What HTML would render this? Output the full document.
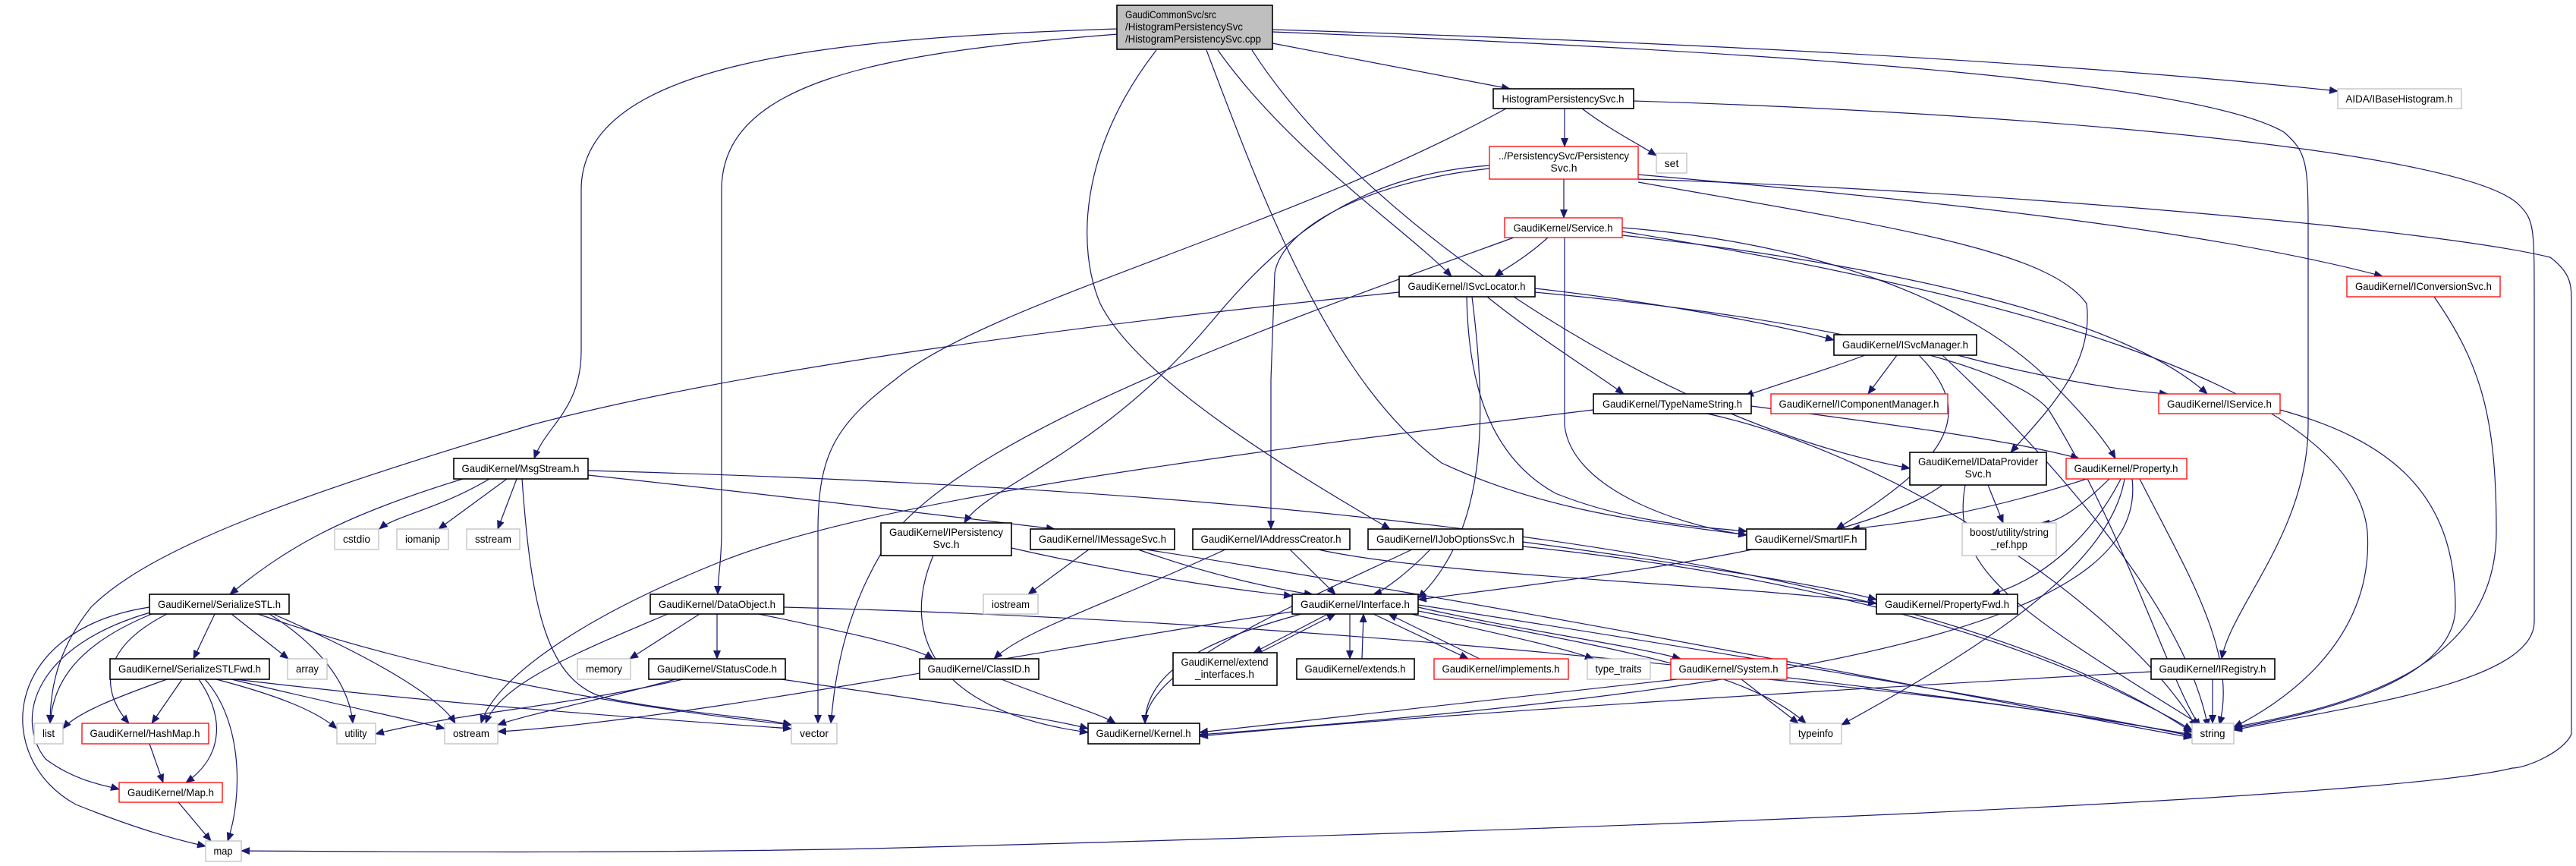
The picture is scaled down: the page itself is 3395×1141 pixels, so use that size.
<!DOCTYPE html>
<html><head><meta charset="utf-8"><style>
html,body{margin:0;padding:0;background:#fff;}
svg{display:block;}
text{font-family:"Liberation Sans",sans-serif;font-size:14px;fill:#000;}
.e{fill:none;stroke:#191970;stroke-width:1.2;marker-end:url(#a);}
.b{fill:#fff;stroke:#000;stroke-width:1.6;}
.r{fill:#fff;stroke:#ff0000;stroke-width:1.3;}
.g{fill:#fff;stroke:#bfbfbf;stroke-width:1.3;}
</style></head><body>
<svg width="3395" height="1141" viewBox="0 0 3395 1141" xmlns="http://www.w3.org/2000/svg">
<defs><marker id="a" markerWidth="12" markerHeight="10" refX="11" refY="5" orient="auto" markerUnits="userSpaceOnUse"><path d="M0,0 L12,5 L0,10 z" fill="#191970"/></marker></defs>
<g>
<!-- root edges -->
<path class="e" d="M1677,57 C1800,80 1900,100 1990,117"/>
<path class="e" d="M1677,39 C2200,55 2700,80 3081,120"/>
<path class="e" d="M1605,66 C1700,200 1850,300 1913,364"/>
<path class="e" d="M1473,38 C1100,50 766,80 766,250 L766,462 C766,540 720,560 704,604"/>
<path class="e" d="M1473,45 C1150,70 951,110 951,250 L951,700 C951,740 946,760 946,783"/>
<path class="e" d="M1524,66 C1420,200 1420,330 1450,400 C1500,500 1700,620 1832,697"/>
<path class="e" d="M1590,66 C1660,250 1750,500 1900,610 C2050,680 2200,690 2302,705"/>
<path class="e" d="M1677,42 C2400,70 2900,110 3010,174 C3040,200 3042,215 3042,300 L3042,560 C3042,700 2940,800 2928,868"/>
<path class="e" d="M1650,66 C1800,300 2200,560 2517,617"/>
<!-- HPS -->
<path class="e" d="M2062,143 L2062,193"/>
<path class="e" d="M2085,143 C2120,170 2160,190 2183,205"/>
<path class="e" d="M2153,133 C2700,150 3250,200 3320,270 C3340,290 3340,300 3340,400 L3340,819 C3340,900 3100,930 2944,962"/>
<path class="e" d="M1985,143 C1700,300 1300,400 1180,500 C1100,560 1078,600 1078,700 L1078,953"/>
<!-- PS -->
<path class="e" d="M2061,236 L2061,287"/>
<path class="e" d="M1963,218 C1800,230 1700,300 1600,420 C1450,600 1300,640 1271,689"/>
<path class="e" d="M1963,222 C1800,240 1690,300 1680,360 L1675,500 L1675,697"/>
<path class="e" d="M2159,230 C2500,260 2900,300 3140,364"/>
<path class="e" d="M2159,236 C2600,250 3200,300 3361,339 C3389,360 3389,376 3389,400 L3389,967 C3380,990 3330,1012 3311,1012 C3200,1040 2600,1080 1150,1118 C800,1125 500,1122 318,1121"/>
<path class="e" d="M2159,240 C2500,300 2700,330 2750,400 C2760,480 2700,540 2650,596"/>
<!-- Service -->
<path class="e" d="M2040,313 C2010,340 1990,350 1970,364"/>
<path class="e" d="M2062,313 L2062,560 C2070,640 2200,690 2302,705"/>
<path class="e" d="M2138,300 C2400,320 2600,400 2700,500 C2760,560 2780,590 2788,604"/>
<path class="e" d="M2138,310 C2500,350 2800,420 2909,519"/>
<path class="e" d="M1995,313 C1700,420 1300,560 1180,700 C1110,800 1100,900 1095,953"/>
<path class="e" d="M2138,305 C2600,380 3100,500 3120,700 C3130,850 3000,930 2944,958"/>
<!-- ISvcLocator -->
<path class="e" d="M1844,385 C1500,420 1000,480 700,560 C400,650 200,720 120,800 C80,850 66,900 66,953"/>
<path class="e" d="M2023,380 C2200,400 2350,430 2417,448"/>
<path class="e" d="M1960,391 C2020,440 2100,490 2140,519"/>
<path class="e" d="M1933,391 C1935,500 1960,600 2050,650 C2150,690 2250,695 2302,700"/>
<path class="e" d="M1940,391 C1960,550 1960,700 1869,788"/>
<path class="e" d="M2023,385 C2400,420 2650,480 2700,540 C2800,700 2860,900 2900,958"/>
<!-- ISvcManager -->
<path class="e" d="M2500,468 L2462,519"/>
<path class="e" d="M2580,468 C2700,500 2800,515 2857,519"/>
<path class="e" d="M2458,468 C2400,490 2330,510 2300,522"/>
<path class="e" d="M2529,468 C2600,540 2580,600 2420,697"/>
<path class="e" d="M2560,468 C2700,600 2880,800 2910,958"/>
<!-- TNS -->
<path class="e" d="M2308,535 C2500,560 2650,580 2740,604"/>
<path class="e" d="M2100,540 C1600,600 1150,660 950,740 C750,820 650,900 634,953"/>
<path class="e" d="M2250,545 C2500,600 2800,800 2895,958"/>
<!-- IDP -->
<path class="e" d="M2560,639 C2450,720 2100,760 1869,790"/>
<path class="e" d="M2620,639 L2640,689"/>
<path class="e" d="M2590,639 C2570,750 2650,800 2900,955"/>
<!-- Property -->
<path class="e" d="M2750,631 C2600,680 2500,690 2440,697"/>
<path class="e" d="M2780,631 C2740,670 2710,690 2690,689"/>
<path class="e" d="M2795,631 C2760,700 2700,760 2625,783"/>
<path class="e" d="M2800,631 C2780,750 2600,860 2427,955"/>
<path class="e" d="M2810,631 C2830,800 2500,900 1581,968"/>
<path class="e" d="M2820,631 C2880,750 2950,860 2925,955"/>
<!-- MsgStream -->
<path class="e" d="M645,631 C580,670 520,680 500,697"/>
<path class="e" d="M668,631 L578,697"/>
<path class="e" d="M681,631 L656,697"/>
<path class="e" d="M610,631 C450,680 380,720 303,783"/>
<path class="e" d="M688,631 C700,800 720,900 800,920 C900,940 1000,945 1043,955"/>
<path class="e" d="M775,626 C1000,650 1250,680 1390,697"/>
<path class="e" d="M775,620 C1500,640 2500,700 2889,965"/>
<!-- SerializeSTL -->
<path class="e" d="M283,809 L255,868"/>
<path class="e" d="M305,809 L380,868"/>
<path class="e" d="M355,809 C420,850 460,900 465,953"/>
<path class="e" d="M360,809 C500,870 580,920 600,953"/>
<path class="e" d="M340,809 C600,900 900,940 1043,955"/>
<path class="e" d="M200,809 C100,850 70,900 66,953"/>
<path class="e" d="M220,809 C120,860 140,920 170,953"/>
<path class="e" d="M205,805 C40,850 20,950 60,1000 C100,1030 140,1035 157,1040"/>
<path class="e" d="M197,800 C0,830 -10,1000 100,1060 C200,1100 250,1110 271,1115"/>
<!-- SerializeSTLFwd -->
<path class="e" d="M220,895 C150,920 100,940 83,960"/>
<path class="e" d="M240,895 L200,953"/>
<path class="e" d="M262,895 C300,950 290,1000 245,1031"/>
<path class="e" d="M270,895 C320,950 320,1050 300,1108"/>
<path class="e" d="M285,895 C380,920 420,940 444,960"/>
<path class="e" d="M305,895 C450,930 550,950 586,960"/>
<path class="e" d="M310,895 C600,930 900,950 1043,960"/>
<path class="e" d="M197,980 L215,1031"/>
<path class="e" d="M235,1057 L278,1108"/>
<!-- DataObject -->
<path class="e" d="M922,809 L830,868"/>
<path class="e" d="M945,809 L945,868"/>
<path class="e" d="M880,809 C760,860 660,900 640,953"/>
<path class="e" d="M1000,809 C1100,830 1200,850 1230,868"/>
<path class="e" d="M1033,800 C1800,820 2500,900 2889,968"/>
<!-- StatusCode -->
<path class="e" d="M900,895 C750,930 600,940 495,967"/>
<path class="e" d="M890,895 C800,920 700,940 656,955"/>
<path class="e" d="M1030,895 C1200,920 1380,945 1434,960"/>
<!-- IPersistencySvc etc -->
<path class="e" d="M1230,732 C1180,850 1250,940 1434,965"/>
<path class="e" d="M1333,722 C1500,760 1650,780 1703,785"/>
<path class="e" d="M1435,724 L1355,783"/>
<path class="e" d="M1500,724 C1600,760 1700,780 1730,783"/>
<path class="e" d="M1510,724 C2000,800 2500,900 2889,972"/>
<path class="e" d="M1615,724 C1450,800 1350,830 1310,868"/>
<path class="e" d="M1700,724 L1760,783"/>
<path class="e" d="M1737,724 C1900,760 2300,770 2473,795"/>
<path class="e" d="M1885,724 C1850,760 1820,780 1810,783"/>
<path class="e" d="M1861,724 C1700,800 1510,880 1509,953"/>
<path class="e" d="M2007,714 C2200,740 2400,770 2473,790"/>
<path class="e" d="M2007,720 C2400,760 2700,850 2889,962"/>
<!-- Interface -->
<path class="e" d="M1750,809 L1652,860"/>
<path class="e" d="M1660,860 L1760,809"/>
<path class="e" d="M1779,809 L1779,868"/>
<path class="e" d="M1795,868 L1797,809"/>
<path class="e" d="M1810,809 L1935,868"/>
<path class="e" d="M1950,868 L1830,809"/>
<path class="e" d="M1860,809 C1950,830 2050,850 2100,868"/>
<path class="e" d="M1869,800 C2000,830 2150,850 2215,868"/>
<path class="e" d="M1715,809 C1600,840 1510,880 1509,953"/>
<path class="e" d="M1703,806 C1400,850 900,950 656,964"/>
<path class="e" d="M1869,797 C2400,880 2800,950 2889,970"/>
<path class="e" d="M1869,805 C2100,850 2300,880 2380,953"/>
<!-- System, Registry, ClassID, IService, IConversionSvc -->
<path class="e" d="M2210,895 C1900,930 1700,950 1581,965"/>
<path class="e" d="M2295,895 L2370,953"/>
<path class="e" d="M2330,895 C2600,920 2800,950 2889,970"/>
<path class="e" d="M2916,895 L2916,953"/>
<path class="e" d="M2835,885 C2400,910 1900,940 1581,970"/>
<path class="e" d="M1320,895 C1380,920 1450,940 1470,953"/>
<path class="e" d="M3005,540 C3150,580 3236,650 3236,800 C3236,900 3050,940 2944,960"/>
<path class="e" d="M3208,391 C3270,480 3290,550 3290,700 C3290,880 3100,930 2944,958"/>
</g>
<g>
<rect x="1472" y="7" width="205" height="58" fill="#bfbfbf" stroke="#000" stroke-width="1.6"/>
<text x="1483" y="24" textLength="120" lengthAdjust="spacingAndGlyphs">GaudiCommonSvc/src</text>
<text x="1483" y="40" textLength="155" lengthAdjust="spacingAndGlyphs">/HistogramPersistencySvc</text>
<text x="1483" y="56" textLength="179" lengthAdjust="spacingAndGlyphs">/HistogramPersistencySvc.cpp</text>

<rect class="b" x="1968" y="117" width="185" height="26"/><text x="2060" y="135" text-anchor="middle" textLength="161" lengthAdjust="spacingAndGlyphs">HistogramPersistencySvc.h</text>
<rect class="r" x="1963" y="193" width="196" height="43"/><text x="2061" y="210" text-anchor="middle" textLength="172" lengthAdjust="spacingAndGlyphs">../PersistencySvc/Persistency</text><text x="2061" y="226" text-anchor="middle">Svc.h</text>
<rect class="g" x="2183" y="202" width="40" height="26"/><text x="2203" y="220" text-anchor="middle">set</text>
<rect class="r" x="1983" y="287" width="155" height="26"/><text x="2060" y="305" text-anchor="middle" textLength="131" lengthAdjust="spacingAndGlyphs">GaudiKernel/Service.h</text>
<rect class="b" x="1844" y="364" width="179" height="27"/><text x="1933" y="382" text-anchor="middle" textLength="155" lengthAdjust="spacingAndGlyphs">GaudiKernel/ISvcLocator.h</text>
<rect class="b" x="2100" y="519" width="208" height="26"/><text x="2204" y="537" text-anchor="middle" textLength="184" lengthAdjust="spacingAndGlyphs">GaudiKernel/TypeNameString.h</text>
<rect class="g" x="3081" y="117" width="163" height="26"/><text x="3162" y="135" text-anchor="middle" textLength="141" lengthAdjust="spacingAndGlyphs">AIDA/IBaseHistogram.h</text>
<rect class="r" x="3093" y="364" width="202" height="27"/><text x="3194" y="382" text-anchor="middle" textLength="180" lengthAdjust="spacingAndGlyphs">GaudiKernel/IConversionSvc.h</text>
<rect class="b" x="2417" y="441" width="188" height="27"/><text x="2511" y="459" text-anchor="middle" textLength="166" lengthAdjust="spacingAndGlyphs">GaudiKernel/ISvcManager.h</text>
<rect class="r" x="2334" y="519" width="233" height="26"/><text x="2450" y="537" text-anchor="middle" textLength="211" lengthAdjust="spacingAndGlyphs">GaudiKernel/IComponentManager.h</text>
<rect class="r" x="2845" y="519" width="160" height="26"/><text x="2925" y="537" text-anchor="middle" textLength="138" lengthAdjust="spacingAndGlyphs">GaudiKernel/IService.h</text>

<rect class="b" x="598" y="604" width="177" height="27"/><text x="686" y="622" text-anchor="middle" textLength="155" lengthAdjust="spacingAndGlyphs">GaudiKernel/MsgStream.h</text>
<rect class="g" x="441" y="697" width="58" height="27"/><text x="470" y="715" text-anchor="middle" textLength="36" lengthAdjust="spacingAndGlyphs">cstdio</text>
<rect class="g" x="523" y="697" width="68" height="27"/><text x="557" y="715" text-anchor="middle" textLength="46" lengthAdjust="spacingAndGlyphs">iomanip</text>
<rect class="g" x="615" y="697" width="70" height="27"/><text x="650" y="715" text-anchor="middle" textLength="48" lengthAdjust="spacingAndGlyphs">sstream</text>
<rect class="b" x="197" y="783" width="184" height="26"/><text x="289" y="801" text-anchor="middle" textLength="162" lengthAdjust="spacingAndGlyphs">GaudiKernel/SerializeSTL.h</text>
<rect class="b" x="857" y="783" width="176" height="26"/><text x="945" y="801" text-anchor="middle" textLength="154" lengthAdjust="spacingAndGlyphs">GaudiKernel/DataObject.h</text>
<rect class="b" x="145" y="868" width="210" height="27"/><text x="250" y="886" text-anchor="middle" textLength="188" lengthAdjust="spacingAndGlyphs">GaudiKernel/SerializeSTLFwd.h</text>
<rect class="g" x="379" y="868" width="52" height="27"/><text x="405" y="886" text-anchor="middle" textLength="30" lengthAdjust="spacingAndGlyphs">array</text>
<rect class="g" x="761" y="868" width="70" height="27"/><text x="796" y="886" text-anchor="middle" textLength="48" lengthAdjust="spacingAndGlyphs">memory</text>
<rect class="b" x="855" y="868" width="180" height="27"/><text x="945" y="886" text-anchor="middle" textLength="158" lengthAdjust="spacingAndGlyphs">GaudiKernel/StatusCode.h</text>
<rect class="g" x="45" y="953" width="38" height="27"/><text x="64" y="971" text-anchor="middle" textLength="16" lengthAdjust="spacingAndGlyphs">list</text>
<rect class="r" x="108" y="953" width="167" height="27"/><text x="191" y="971" text-anchor="middle" textLength="145" lengthAdjust="spacingAndGlyphs">GaudiKernel/HashMap.h</text>
<rect class="g" x="444" y="953" width="51" height="27"/><text x="469" y="971" text-anchor="middle" textLength="29" lengthAdjust="spacingAndGlyphs">utility</text>
<rect class="g" x="586" y="953" width="70" height="27"/><text x="621" y="971" text-anchor="middle" textLength="48" lengthAdjust="spacingAndGlyphs">ostream</text>
<rect class="g" x="1043" y="953" width="60" height="27"/><text x="1073" y="971" text-anchor="middle" textLength="38" lengthAdjust="spacingAndGlyphs">vector</text>
<rect class="r" x="157" y="1031" width="136" height="26"/><text x="225" y="1049" text-anchor="middle" textLength="114" lengthAdjust="spacingAndGlyphs">GaudiKernel/Map.h</text>
<rect class="g" x="271" y="1108" width="47" height="27"/><text x="294" y="1126" text-anchor="middle" textLength="25" lengthAdjust="spacingAndGlyphs">map</text>

<rect class="b" x="1161" y="689" width="172" height="43"/><text x="1247" y="706" text-anchor="middle" textLength="150" lengthAdjust="spacingAndGlyphs">GaudiKernel/IPersistency</text><text x="1247" y="722" text-anchor="middle">Svc.h</text>
<rect class="b" x="1358" y="697" width="190" height="27"/><text x="1453" y="715" text-anchor="middle" textLength="168" lengthAdjust="spacingAndGlyphs">GaudiKernel/IMessageSvc.h</text>
<rect class="b" x="1572" y="697" width="207" height="27"/><text x="1675" y="715" text-anchor="middle" textLength="185" lengthAdjust="spacingAndGlyphs">GaudiKernel/IAddressCreator.h</text>
<rect class="b" x="1803" y="697" width="204" height="27"/><text x="1905" y="715" text-anchor="middle" textLength="182" lengthAdjust="spacingAndGlyphs">GaudiKernel/IJobOptionsSvc.h</text>
<rect class="g" x="1296" y="783" width="72" height="26"/><text x="1332" y="801" text-anchor="middle" textLength="50" lengthAdjust="spacingAndGlyphs">iostream</text>
<rect class="b" x="1703" y="783" width="166" height="26"/><text x="1786" y="801" text-anchor="middle" textLength="144" lengthAdjust="spacingAndGlyphs">GaudiKernel/Interface.h</text>
<rect class="b" x="1212" y="868" width="157" height="27"/><text x="1290" y="886" text-anchor="middle" textLength="135" lengthAdjust="spacingAndGlyphs">GaudiKernel/ClassID.h</text>
<rect class="b" x="1546" y="860" width="137" height="43"/><text x="1614" y="877" text-anchor="middle" textLength="115" lengthAdjust="spacingAndGlyphs">GaudiKernel/extend</text><text x="1614" y="893" text-anchor="middle" textLength="78" lengthAdjust="spacingAndGlyphs">_interfaces.h</text>
<rect class="b" x="1709" y="868" width="155" height="27"/><text x="1786" y="886" text-anchor="middle" textLength="133" lengthAdjust="spacingAndGlyphs">GaudiKernel/extends.h</text>
<rect class="r" x="1890" y="868" width="177" height="27"/><text x="1978" y="886" text-anchor="middle" textLength="155" lengthAdjust="spacingAndGlyphs">GaudiKernel/implements.h</text>
<rect class="g" x="2092" y="868" width="83" height="27"/><text x="2133" y="886" text-anchor="middle" textLength="61" lengthAdjust="spacingAndGlyphs">type_traits</text>
<rect class="r" x="2202" y="868" width="153" height="27"/><text x="2278" y="886" text-anchor="middle" textLength="131" lengthAdjust="spacingAndGlyphs">GaudiKernel/System.h</text>
<rect class="b" x="1434" y="953" width="147" height="27"/><text x="1507" y="971" text-anchor="middle" textLength="125" lengthAdjust="spacingAndGlyphs">GaudiKernel/Kernel.h</text>

<rect class="b" x="2517" y="596" width="180" height="43"/><text x="2607" y="613" text-anchor="middle" textLength="158" lengthAdjust="spacingAndGlyphs">GaudiKernel/IDataProvider</text><text x="2607" y="629" text-anchor="middle">Svc.h</text>
<rect class="r" x="2723" y="604" width="159" height="27"/><text x="2802" y="622" text-anchor="middle" textLength="137" lengthAdjust="spacingAndGlyphs">GaudiKernel/Property.h</text>
<rect class="b" x="2302" y="697" width="157" height="27"/><text x="2380" y="715" text-anchor="middle" textLength="135" lengthAdjust="spacingAndGlyphs">GaudiKernel/SmartIF.h</text>
<rect class="g" x="2586" y="689" width="124" height="43"/><text x="2648" y="706" text-anchor="middle" textLength="104" lengthAdjust="spacingAndGlyphs">boost/utility/string</text><text x="2648" y="722" text-anchor="middle" textLength="48" lengthAdjust="spacingAndGlyphs">_ref.hpp</text>
<rect class="b" x="2473" y="783" width="186" height="26"/><text x="2566" y="801" text-anchor="middle" textLength="164" lengthAdjust="spacingAndGlyphs">GaudiKernel/PropertyFwd.h</text>
<rect class="b" x="2835" y="868" width="163" height="27"/><text x="2916" y="886" text-anchor="middle" textLength="141" lengthAdjust="spacingAndGlyphs">GaudiKernel/IRegistry.h</text>
<rect class="g" x="2359" y="953" width="68" height="27"/><text x="2393" y="971" text-anchor="middle" textLength="46" lengthAdjust="spacingAndGlyphs">typeinfo</text>
<rect class="g" x="2889" y="953" width="55" height="27"/><text x="2916" y="971" text-anchor="middle" textLength="33" lengthAdjust="spacingAndGlyphs">string</text>
</g>
</svg>
</body></html>
